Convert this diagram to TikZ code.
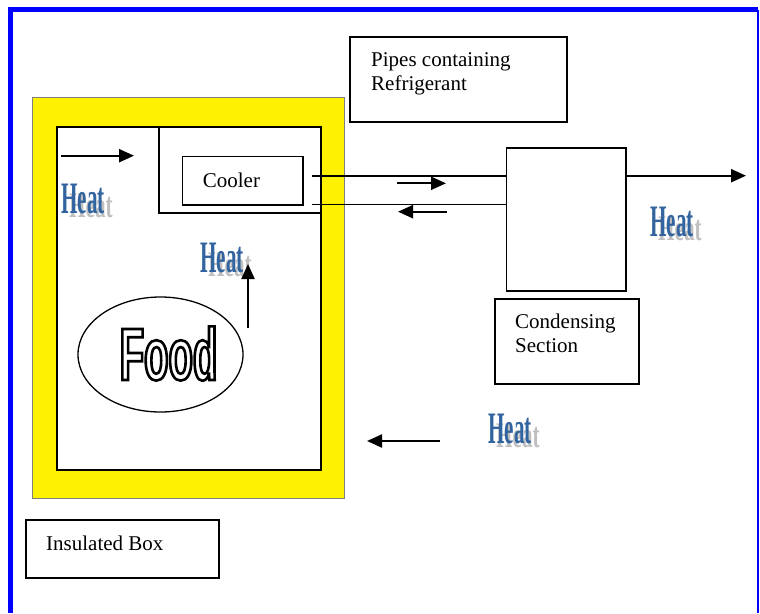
\documentclass[tikz,border=0pt]{standalone}
\usepackage{fontspec}
\setmainfont{Liberation Serif}
\setsansfont{Liberation Sans}
\newfontfamily\foodfont[FakeStretch=0.54,UprightFont={* Bold}]{Liberation Sans}
\usetikzlibrary{arrows.meta,shapes.geometric}

\definecolor{heatblue}{RGB}{50,100,160}
\definecolor{heatgray}{RGB}{192,192,192}
\definecolor{frameblue}{RGB}{0,0,255}

\newcommand\outlinetext[1]{\special{pdf:literal direct 2 Tr 2.6 w 0 G 1 g}#1\special{pdf:literal direct 0 Tr 0 g}}

\tikzset{
  box/.style={draw=black, line width=1.5pt, rectangle, inner sep=0pt, anchor=north west},
  lbl/.style={font=\fontsize{21}{24}\selectfont, inner sep=0pt, align=left},
  arr/.style={-{Triangle[length=15pt,width=13pt]}, line width=2.2pt},
  pipe/.style={line width=1.5pt},
  heatb/.style={text=heatblue, inner sep=0pt, font=\bfseries\fontsize{45}{45}\selectfont},
  heatg/.style={text=heatgray, inner sep=0pt, font=\bfseries\fontsize{45}{45}\selectfont},
}

\newcommand\heatmark[3]{%
  \node[heatg, anchor=base west] (#1g) at (#2+8,#3+4) {\scalebox{0.47}[0.8]{Heat}};
  \node[heatb, anchor=base west] (#1) at (#2,#3) {\scalebox{0.47}[1]{Heat}};}

\begin{document}
\begin{tikzpicture}[x=1pt,y=-1pt]
\useasboundingbox (0,0) rectangle (760,613);
\fill[white] (0,0) rectangle (760,613);

% blue frame
\draw[frameblue, line width=5pt] (10.5,613) -- (10.5,9.5) -- (758,9.5);
\draw[frameblue, line width=2pt] (758,9.5) -- (758,613);

% insulated wall
\node[rectangle, draw=gray, line width=1pt, fill=yellow, anchor=north west,
      minimum width=312, minimum height=401, inner sep=0pt] (wall) at (32,97) {};
\node[box, line width=2pt, fill=white, minimum width=264, minimum height=343] (inner) at (56,126) {};

% cooler section
\node[box, minimum width=162, minimum height=86] (coolsec) at (158,126) {};
\node[box, minimum width=120.6, minimum height=48.3] (cooler) at (181.7,155.7) {};
\node[lbl, anchor=base west] (coolertxt) at (202.7,187) {Cooler};

% pipes
\coordinate (p1) at (312,176);
\coordinate (p2) at (312,204.3);
\node[box, minimum width=119.3, minimum height=142.7] (cond) at (505.7,147.3) {};
\draw[pipe] (p1) -- (cond.west |- p1);
\draw[pipe] (p2) -- (cond.west |- p2);

\coordinate (r1a) at (397,183.3);
\coordinate (r1b) at (446,183.3);
\coordinate (r2a) at (447,211.7);
\coordinate (r2b) at (398,211.7);
\draw[arr] (r1a) -- (r1b);
\draw[arr] (r2a) -- (r2b);

% output arrow
\coordinate (outend) at (746,175.7);
\draw[arr] (cond.east |- outend) -- (outend);

% label boxes
\node[box, minimum width=217, minimum height=85] (pipesbox) at (349,36) {};
\node[lbl, anchor=north west] (pipestxt) at (371,52.7) {Pipes containing\\Refrigerant};

\node[box, minimum width=144, minimum height=85] (condbox) at (494,298) {};
\node[lbl, anchor=north west] (condtxt) at (515,313.7) {Condensing\\Section};

\node[box, minimum width=193, minimum height=58] (insbox) at (25,519) {};
\node[lbl, anchor=base west] (instxt) at (46,550) {Insulated Box};

% food
\node[ellipse, draw=black, line width=1.3pt, minimum width=165, minimum height=115, inner sep=0pt] (food) at (160.5,354.5) {};
\node[font=\foodfont\fontsize{74}{74}\selectfont, inner sep=0pt] (foodtxt) at (168.5,353.5)
  {\outlinetext{Food}};

% heat labels
\heatmark{h1}{61}{213}
\heatmark{h2}{200}{272}
\heatmark{h3}{650}{236}
\heatmark{h4}{488}{443}

% arrows inside
\coordinate (a1a) at (61,155.7);
\coordinate (a1b) at (134,155.7);
\draw[arr] (a1a) -- (a1b);
\coordinate (upa) at (248,328);
\coordinate (upb) at (248,264);
\draw[arr] (upa) -- (upb);
\coordinate (la) at (440,441);
\coordinate (lb) at (367,441);
\draw[arr] (la) -- (lb);
\end{tikzpicture}
\end{document}
